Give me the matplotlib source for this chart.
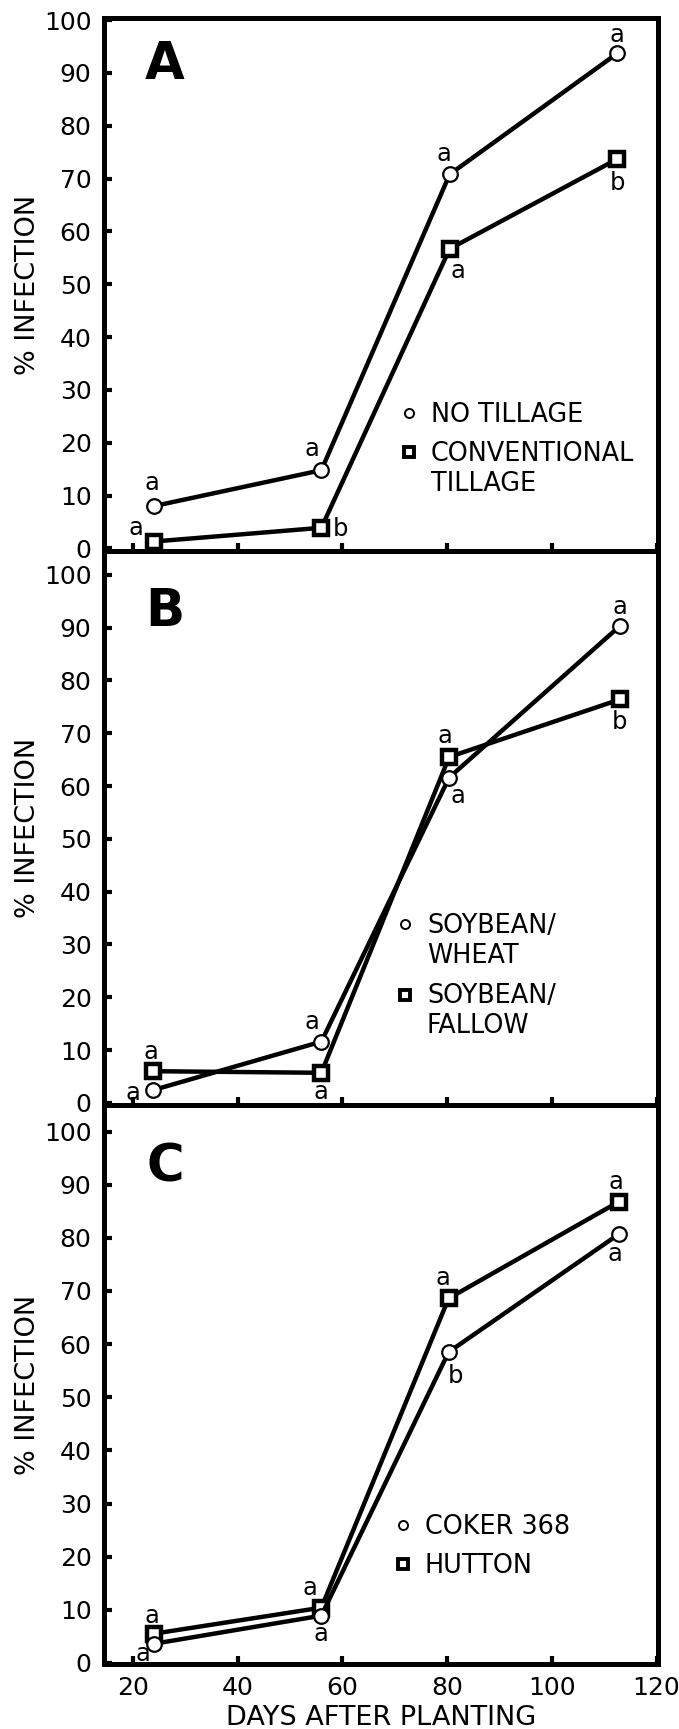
import matplotlib
matplotlib.use("Agg")
import matplotlib.pyplot as plt
from matplotlib.lines import Line2D

plt.rcParams['font.family'] = ['DejaVu Sans']

# ---------------- data ----------------
days_a = [24, 56, 80.5, 112.5]
no_tillage = [8, 14.8, 70.8, 93.7]
conv_tillage = [1.3, 3.9, 56.7, 73.7]

days_b = [23.8, 56, 80.4, 113]
soy_wheat = [2.4, 11.6, 61.6, 90.3]
soy_fallow = [6.0, 5.7, 65.5, 76.4]

days_c = [24, 56, 80.3, 112.8]
coker = [3.6, 8.9, 58.5, 80.7]
hutton = [5.5, 10.4, 68.6, 86.8]

# legend labels: (first line, second line or None)
labels_a = [("NO TILLAGE", None), ("CONVENTIONAL", "TILLAGE")]
labels_b = [("SOYBEAN/", "WHEAT"), ("SOYBEAN/", "FALLOW")]
labels_c = [("COKER 368", None), ("HUTTON", None)]

# significance letters: (series, point, letter, dx_pt, dy_pt)
letters_a = [(0, 0, "a", -1, 17), (1, 0, "a", -13, 10), (0, 1, "a", -7, 15), (1, 1, "b", 14, -1),
             (0, 2, "a", -4, 15), (1, 2, "a", 6, -16), (0, 3, "a", 0, 13), (1, 3, "b", 0, -17)]
letters_b = [(0, 0, "a", -14, -2), (1, 0, "a", -1, 14), (0, 1, "a", -7, 14), (1, 1, "a", 0, -14),
             (1, 2, "a", -3, 15), (0, 2, "a", 6, -13), (0, 3, "a", 0, 14), (1, 3, "b", 0, -16)]
letters_c = [(1, 0, "a", -1, 12.5), (0, 0, "a", -8, -7), (1, 1, "a", -8, 14), (0, 1, "a", 0, -13),
             (1, 2, "a", -4, 14.5), (0, 2, "b", 5, -17), (1, 3, "a", -2, 14), (0, 3, "a", -3, -14.5)]

panel_letters = ["A", "B", "C"]
yticks = list(range(0, 101, 10))
xticks = [20, 40, 60, 80, 100, 120]

# ---------------- figure ----------------
fig = plt.figure(figsize=(6.79, 17.29), dpi=100)
left, width = 0.1532, 0.816
ax_a = fig.add_axes([left, 0.6813, width, 0.3083])
ax_b = fig.add_axes([left, 0.3609, width, 0.3204])
ax_c = fig.add_axes([left, 0.0376, width, 0.3233])

panels = [
    (ax_a, days_a, no_tillage, conv_tillage, labels_a, letters_a, (-0.5, 100.4), (0.534, 0.28), 0.5, 0.912),
    (ax_b, days_b, soy_wheat, soy_fallow, labels_b, letters_b, (-0.4, 104.5), (0.527, 0.347), 1.75, 0.89),
    (ax_c, days_c, coker, hutton, labels_c, letters_c, (-0.2, 105.0), (0.523, 0.268), 0.5, 0.889),
]

FS = 18
LFS = 18.4
pending = []
for i, (ax, x, y_circ, y_sq, labs, lets, ylim, legpos, lspace, lety) in enumerate(panels):
    series = [y_circ, y_sq]
    ax.plot(x, y_sq, color='black', lw=3.2, marker='s', ms=9.5, mfc='white', mec='black',
            mew=3.2, zorder=3)
    ax.plot(x, y_circ, color='black', lw=3.2, marker='o', ms=10.5, mfc='white', mec='black',
            mew=1.6, zorder=4)
    for s, p, letter, dx, dy in lets:
        ax.annotate(letter, (x[p], series[s][p]), xytext=(dx, dy), textcoords='offset points',
                    ha='center', va='center', fontsize=17.5, zorder=5)
    ax.set_xlim(14.5, 120.3)
    ax.set_ylim(*ylim)
    ax.set_yticks(yticks)
    ax.set_xticks(xticks)
    ax.tick_params(axis='both', direction='in', length=6, width=3, labelsize=FS, pad=9)
    for sp in ax.spines.values():
        sp.set_linewidth(3.6)
    if i < 2:
        ax.tick_params(axis='x', labelbottom=False)
    ax.set_ylabel("% INFECTION", fontsize=19.5)
    ax.yaxis.label.set_verticalalignment('center')
    ax.yaxis.set_label_coords(-0.137, 0.5)
    ax.text(0.11, lety, panel_letters[i], transform=ax.transAxes, ha='center', va='center',
            fontsize=37, fontweight='black')
    handles = [Line2D([], [], ls='none', marker='o', ms=6.5, mfc='white', mec='black', mew=1.4),
               Line2D([], [], ls='none', marker='s', ms=7.5, mfc='white', mec='black', mew=2.8)]
    leg = ax.legend(handles, [l[0] for l in labs], loc='upper left', bbox_to_anchor=legpos,
                    frameon=False, fontsize=LFS, handlelength=0.7, handletextpad=0.51,
                    labelspacing=lspace, borderpad=0, borderaxespad=0)
    for txt, (_, second) in zip(leg.get_texts(), labs):
        if second:
            pending.append((ax, txt, second))

ax_c.set_xlabel("DAYS AFTER PLANTING", fontsize=19.5, labelpad=3)

# second lines of legend labels, placed under the first line
fig.canvas.draw()
line_gap_px = 30
for ax, txt, second in pending:
    bb = txt.get_window_extent()
    x0, yc = bb.x0, (bb.y0 + bb.y1) / 2 - line_gap_px
    xa, ya = ax.transAxes.inverted().transform((x0, yc))
    ax.text(xa, ya, second, transform=ax.transAxes, ha='left', va='center', fontsize=LFS)

fig.savefig("out.png", dpi=100)
